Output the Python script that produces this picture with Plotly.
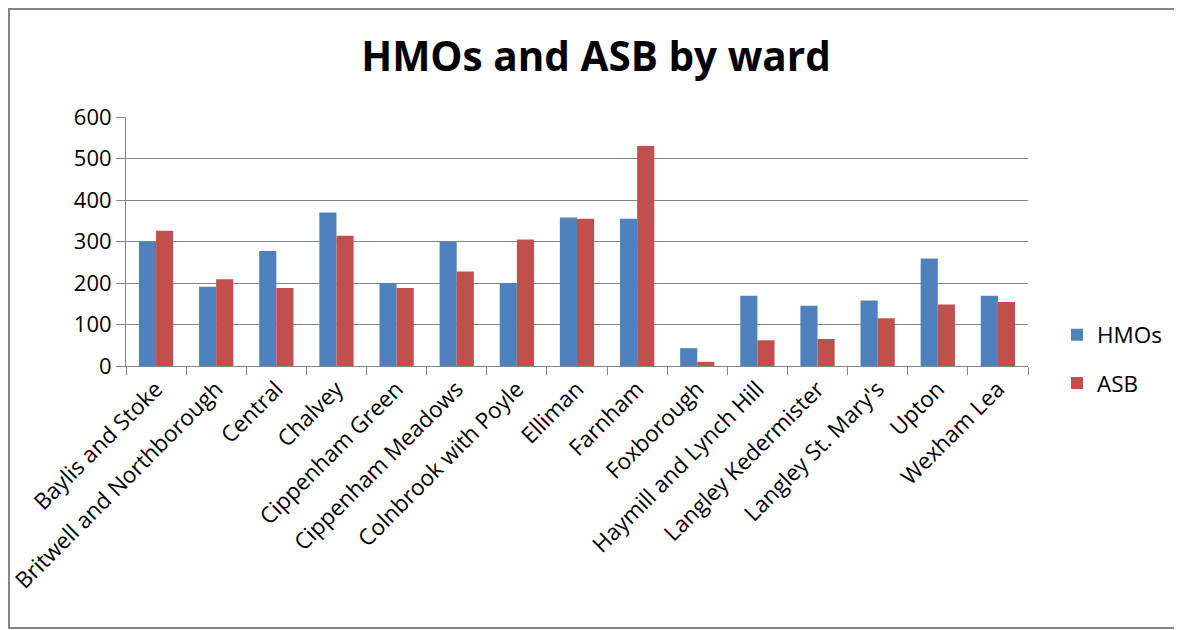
import plotly.graph_objects as go

wards = ["Baylis and Stoke", "Britwell and Northborough", "Central", "Chalvey",
         "Cippenham Green", "Cippenham Meadows", "Colnbrook with Poyle", "Elliman",
         "Farnham", "Foxborough", "Haymill and Lynch Hill", "Langley Kedermister",
         "Langley St. Mary's", "Upton", "Wexham Lea"]
hmos = [300, 191, 277, 370, 200, 300, 200, 358, 355, 43, 169, 145, 158, 259, 169]
asb = [326, 209, 188, 314, 188, 228, 305, 355, 530, 10, 62, 65, 115, 148, 154]

FONT = "Open Sans"
OFF = 8  # page body margin
W, H = 1182 - OFF, 630 - OFF
L, R, T, B = 126 - OFF, 1028 - OFF, 117 - OFF, 366 - OFF
pw, ph = R - L, B - T


def px_x(x):
    return (x - OFF - L) / pw


def px_y(y):
    return (B - (y - OFF)) / ph


fig = go.Figure()
fig.add_trace(go.Bar(name="HMOs", x=wards, y=hmos, marker_color="#4F81BD",
                     marker_line_width=0, legendgroup="a"))
fig.add_trace(go.Bar(name="ASB", x=wards, y=asb, marker_color="#C0504D",
                     marker_line_width=0, legendgroup="b"))

fig.update_layout(
    width=W, height=H,
    margin=dict(l=L, r=W - R, t=T, b=H - B, autoexpand=False),
    paper_bgcolor="white", plot_bgcolor="white",
    font=dict(family=FONT, color="#000000"),
    title=dict(text="<b>HMOs and ASB by ward</b>", x=(596 - OFF) / W, xanchor="center",
               y=1 - (57 - OFF) / H, yanchor="middle", font=dict(size=40.5, family=FONT)),
    barmode="group", bargap=0.43, bargroupgap=0,
    showlegend=True,
    legend=dict(x=px_x(1057), xanchor="left", y=px_y(359), yanchor="middle",
                font=dict(size=22.5, family=FONT), tracegroupgap=16,
                itemwidth=30, bgcolor="rgba(0,0,0,0)"),
    xaxis=dict(tickangle=-45, tickfont=dict(size=22.5, family=FONT),
               showline=True, linecolor="#868686", linewidth=1,
               ticks="outside", tickson="boundaries", ticklen=8, tickcolor="#868686",
               showgrid=False),
    yaxis=dict(range=[0, 600], dtick=100, tickfont=dict(size=22, family=FONT),
               showline=True, linecolor="#868686", linewidth=1,
               ticks="outside", ticklen=9, tickcolor="#868686",
               showgrid=True, gridcolor="#868686", gridwidth=1, zeroline=False),
    shapes=[dict(type="rect", xref="paper", yref="paper",
                 x0=px_x(9), x1=px_x(1200), y0=px_y(628), y1=px_y(9),
                 line=dict(color="#868686", width=2), fillcolor="rgba(0,0,0,0)",
                 layer="below")],
)

fig.write_html("out.html")
